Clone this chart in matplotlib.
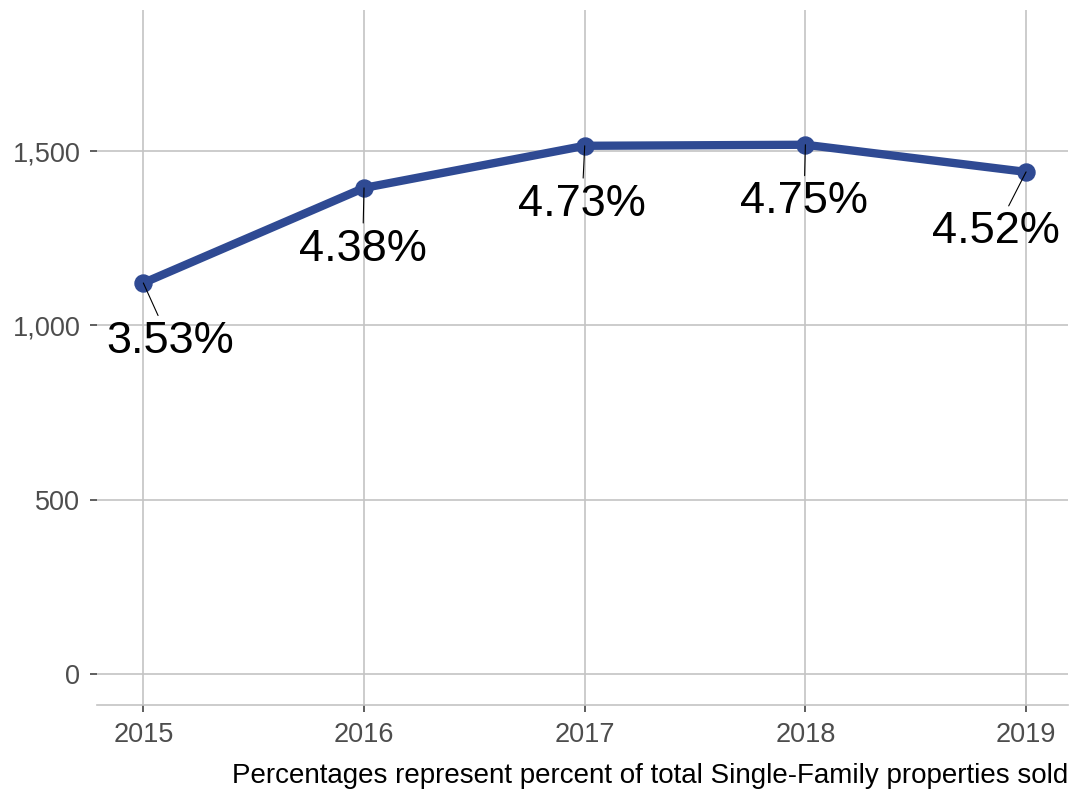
import matplotlib
matplotlib.use("Agg")
import matplotlib.pyplot as plt

plt.rcParams['font.family'] = ['Liberation Sans', 'DejaVu Sans']

# data
years = [2015, 2016, 2017, 2018, 2019]
sold = [1122, 1395, 1516, 1519, 1441]
pct_labels = ['3.53%', '4.38%', '4.73%', '4.75%', '4.52%']
y_ticks = [0, 500, 1000, 1500]
y_tick_labels = ['0', '500', '1,000', '1,500']

# label offsets in points (repel-style placement)
label_offsets = [(19, -42), (-1, -44), (-2, -42), (-1, -41), (-22, -43)]

line_color = '#2F4A93'
grid_color = '#C4C4C4'

fig = plt.figure(figsize=(10.71, 7.92), dpi=100)
ax = fig.add_axes([97 / 1071, 1 - 705 / 792, (1068 - 97) / 1071, (705 - 10) / 792])

ax.plot(years, sold, color=line_color, linewidth=6, solid_capstyle='round', zorder=3)
ax.scatter(years, sold, color=line_color, s=150, zorder=4)

for x, y, lab, off in zip(years, sold, pct_labels, label_offsets):
    ax.annotate(lab, xy=(x, y), xytext=off, textcoords='offset points',
                ha='center', va='center', fontsize=32.5, color='black',
                arrowprops=dict(arrowstyle='-', color='black', lw=0.8,
                                shrinkA=2, shrinkB=0), zorder=5)

ax.set_xlim(2014.79, 2019.19)
ax.set_ylim(-90, 1906)
ax.set_xticks(years)
ax.set_xticklabels([str(y) for y in years])
ax.set_yticks(y_ticks)
ax.set_yticklabels(y_tick_labels)

ax.grid(True, color=grid_color, linewidth=1.2)
ax.set_axisbelow(True)
for side in ['top', 'right', 'left']:
    ax.spines[side].set_visible(False)
ax.spines['bottom'].set_color(grid_color)
ax.spines['bottom'].set_linewidth(1.2)

ax.tick_params(axis='both', colors='#333333', labelcolor='#4D4D4D',
               labelsize=19.5, length=5, width=1.1, pad=7)

fig.text(1068 / 1071, 3 / 792, 'Percentages represent percent of total Single-Family properties sold',
         ha='right', va='bottom', fontsize=20, color='black')

fig.savefig('out.png', dpi=100, facecolor='white')
